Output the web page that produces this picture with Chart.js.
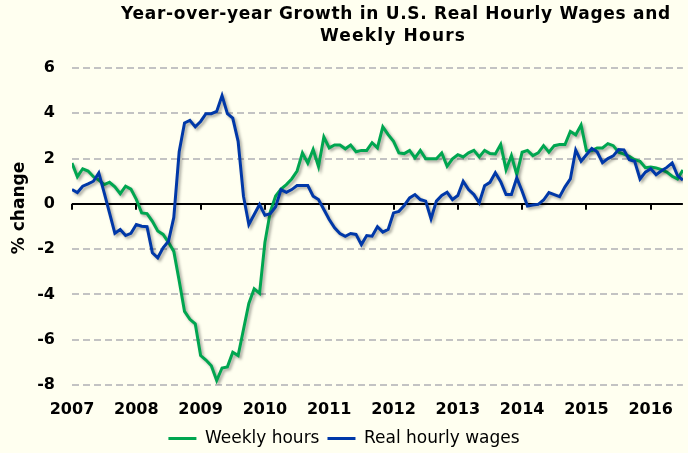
<!DOCTYPE html>
<html>
<head>
<meta charset="utf-8">
<script src="https://cdn.jsdelivr.net/npm/chart.js@4"></script>
<style>
  html, body { margin: 0; padding: 0; background: #fffff0; }
  #wrap { width: 688px; height: 453px; }
</style>
</head>
<body>
<div id="wrap"><canvas id="myChart" width="688" height="453"></canvas></div>
<script>
// monthly, Jan 2007 .. Jul 2016
var startYear = 2007;

var weeklyHours = [
    1.8, 1.2, 1.55, 1.45, 1.2, 1.05, 0.85, 0.95, 0.75, 0.45, 0.78, 0.65,
    0.2, -0.4, -0.43, -0.77, -1.2, -1.35, -1.7, -2.1, -3.4, -4.75, -5.1, -5.3,
    -6.7, -6.9, -7.15, -7.8, -7.25, -7.2, -6.55, -6.7, -5.55, -4.4, -3.75, -3.95,
    -1.7, -0.35, 0.35, 0.65, 0.85, 1.1, 1.45, 2.25, 1.8, 2.4, 1.65, 2.95,
    2.47, 2.6, 2.6, 2.43, 2.6, 2.3, 2.36, 2.36, 2.7, 2.47, 3.4, 3.06,
    2.76, 2.25, 2.22, 2.36, 2.03, 2.36, 1.99, 1.99, 1.99, 2.25, 1.66, 1.99,
    2.17, 2.07, 2.25, 2.36, 2.07, 2.36, 2.22, 2.2, 2.62, 1.51, 2.13, 1.29,
    2.28, 2.36, 2.13, 2.25, 2.57, 2.28, 2.57, 2.62, 2.62, 3.2, 3.05, 3.48,
    2.35, 2.35, 2.47, 2.47, 2.66, 2.57, 2.28, 2.2, 2.1, 1.95, 1.88, 1.6,
    1.63, 1.59, 1.51, 1.4, 1.22, 1.1, 1.5
];

var realHourlyWages = [
    0.63, 0.5, 0.78, 0.88, 1.0, 1.37, 0.5, -0.4, -1.3, -1.13, -1.4, -1.3,
    -0.91, -0.99, -1.01, -2.16, -2.38, -1.94, -1.65, -0.6, 2.3, 3.57, 3.69, 3.4,
    3.64, 3.98, 3.98, 4.08, 4.78, 3.98, 3.79, 2.76, 0.34, -0.91, -0.47, -0.03,
    -0.5, -0.43, -0.13, 0.63, 0.51, 0.63, 0.81, 0.81, 0.81, 0.34, 0.19, -0.25,
    -0.69, -1.06, -1.31, -1.43, -1.31, -1.35, -1.8, -1.4, -1.43, -1.01, -1.25, -1.13,
    -0.4, -0.33, -0.07, 0.26, 0.41, 0.19, 0.12, -0.66, 0.12, 0.37, 0.51, 0.19,
    0.37, 1.0, 0.63, 0.41, 0.05, 0.8, 0.95, 1.37, 0.98, 0.41, 0.41, 1.15,
    0.56, -0.1, -0.05, -0.02, 0.17, 0.5, 0.41, 0.32, 0.75, 1.1, 2.38, 1.88,
    2.17, 2.45, 2.3, 1.82, 2.0, 2.12, 2.4, 2.38, 1.95, 1.88, 1.1, 1.4,
    1.55, 1.29, 1.46, 1.61, 1.81, 1.25, 1.05
];

var yTicks = [-8, -6, -4, -2, 0, 2, 4, 6];
var titleLines = ["Year-over-year Growth in U.S. Real Hourly Wages and", "Weekly Hours"];
var yTitle = "% change";

var GREEN = "rgb(0, 166, 80)";
var BLUE = "rgb(0, 56, 168)";
var BG = "#fffff0";
var FONT = "'DejaVu Sans', Verdana, sans-serif";

function toPoints(values) {
    return values.map(function (v, i) {
        return { x: startYear + i / 12, y: v };
    });
}

var decor = {
    id: 'decor',
    beforeDraw: function (chart) {
        var ctx = chart.ctx;
        ctx.save();
        ctx.fillStyle = BG;
        ctx.fillRect(0, 0, chart.width, chart.height);
        ctx.restore();
    },
    beforeDatasetsDraw: function (chart) {
        // little year ticks hanging off the zero line
        var ctx = chart.ctx;
        var xs = chart.scales.x, ys = chart.scales.y;
        var y0 = ys.getPixelForValue(0);
        ctx.save();
        ctx.strokeStyle = "#000";
        ctx.lineWidth = 2;
        xs.ticks.forEach(function (t) {
            var px = Math.round(xs.getPixelForValue(t.value));
            ctx.beginPath();
            ctx.moveTo(px, y0);
            ctx.lineTo(px, y0 + 6);
            ctx.stroke();
        });
        ctx.restore();
    },
    beforeDatasetDraw: function (chart) {
        var ctx = chart.ctx;
        ctx.save();
        ctx.shadowColor = "rgba(0,0,0,0.35)";
        ctx.shadowBlur = 3;
        ctx.shadowOffsetX = 2;
        ctx.shadowOffsetY = 2;
    },
    afterDatasetDraw: function (chart) {
        chart.ctx.restore();
    },
    afterDraw: function (chart) {
        var ctx = chart.ctx;
        ctx.save();
        ctx.fillStyle = "#000";
        ctx.textAlign = "center";
        ctx.textBaseline = "middle";
        ctx.font = "bold 17px " + FONT;
        ctx.letterSpacing = "0.7px";
        ctx.fillText(titleLines[0], 396, 15);
        ctx.letterSpacing = "1.2px";
        ctx.fillText(titleLines[1], 393, 37);
        ctx.letterSpacing = "0px";

        ctx.translate(20, 208);
        ctx.rotate(-Math.PI / 2);
        ctx.font = "bold 17px " + FONT;
        ctx.fillText(yTitle, 0, 0);
        ctx.restore();
    }
};

var ctx = document.getElementById('myChart').getContext('2d');
var chart = new Chart(ctx, {
    type: 'line',
    data: {
        datasets: [
            {
                label: "Weekly hours",
                data: toPoints(weeklyHours),
                borderColor: GREEN,
                backgroundColor: GREEN,
                borderWidth: 3,
                pointRadius: 0,
                tension: 0,
                order: 2
            },
            {
                label: "Real hourly wages",
                data: toPoints(realHourlyWages),
                borderColor: BLUE,
                backgroundColor: BLUE,
                borderWidth: 3,
                pointRadius: 0,
                tension: 0,
                order: 1
            }
        ]
    },
    options: {
        responsive: false,
        animation: false,
        events: [],
        layout: { padding: { top: 68, left: 0, right: 0, bottom: 0 } },
        scales: {
            x: {
                type: 'linear',
                min: startYear,
                max: startYear + (weeklyHours.length - 1) / 12,
                afterFit: function (scale) { scale.height = 37; },
                grid: { display: false, drawTicks: false },
                border: { display: false },
                ticks: {
                    stepSize: 1,
                    includeBounds: false,
                    padding: 15,
                    color: "#000",
                    font: { family: FONT, size: 16, weight: 'bold' },
                    maxRotation: 0,
                    callback: function (v) { return String(v); }
                }
            },
            y: {
                min: yTicks[0],
                max: yTicks[yTicks.length - 1],
                afterFit: function (scale) { scale.width = 72; },
                afterBuildTicks: function (scale) {
                    scale.ticks = yTicks.map(function (v) { return { value: v }; });
                },
                grid: {
                    drawTicks: false,
                    color: function (c) { return c.tick && c.tick.value === 0 ? "#000" : "#c3c3c3"; },
                    lineWidth: 2
                },
                border: {
                    display: false,
                    dash: function (c) { return c.tick && c.tick.value === 0 ? [] : [7, 4]; }
                },
                ticks: {
                    padding: 17,
                    color: "#000",
                    font: { family: FONT, size: 16, weight: 'bold' }
                }
            }
        },
        plugins: {
            title: { display: false },
            tooltip: { enabled: false },
            legend: {
                position: 'bottom',
                reverse: true,
                maxHeight: 31,
                labels: {
                    usePointStyle: true,
                    pointStyle: 'line',
                    pointStyleWidth: 28,
                    padding: 8,
                    color: "#000",
                    font: { family: FONT, size: 17 }
                }
            }
        }
    },
    plugins: [decor]
});
</script>
</body>
</html>
